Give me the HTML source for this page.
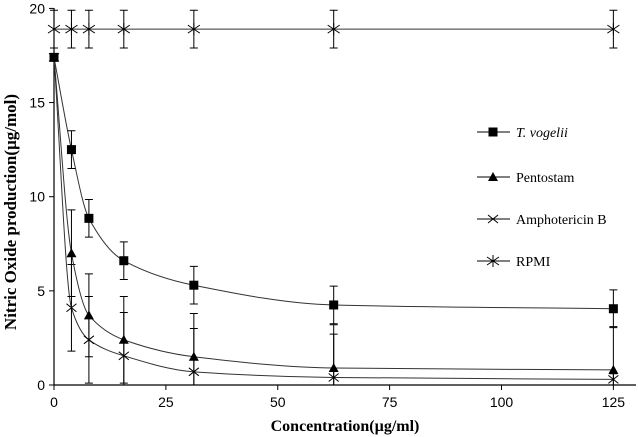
<!DOCTYPE html>
<html><head><meta charset="utf-8"><style>
body{margin:0;background:#fff;}
svg{display:block;font-family:"Liberation Serif",serif;}
</style></head><body>
<svg id="c" width="638" height="437"></svg>
<script>
const xs=[0,3.9,7.8,15.6,31.25,62.5,125];
const tvog=[17.4,12.5,8.85,6.6,5.3,4.25,4.05];
const tvogErr=[0,1,1,1,1,1,1];
const pento=[17.4,7.0,3.7,2.4,1.5,0.9,0.8];
const pentoErr=[0,2.3,2.2,2.3,2.3,2.3,2.3];
const ampho=[17.4,4.1,2.4,1.55,0.7,0.4,0.3];
const amphoErr=[0,2.3,2.3,2.3,2.3,2.3,0.3];
const rpmi=[18.9,18.9,18.9,18.9,18.9,18.9,18.9];
const rpmiErr=[1,1,1,1,1,1,1];
const xTicks=[0,25,50,75,100,125];
const yTicks=[0,5,10,15,20];
const NS="http://www.w3.org/2000/svg";
const svg=document.getElementById('c');
const X=v=>54+v*4.475, Y=v=>385-v*18.83;
function el(t,a,p){const e=document.createElementNS(NS,t);for(const k in a)e.setAttribute(k,a[k]);(p||svg).appendChild(e);return e;}
let ax=el('line',{x1:54,y1:385,x2:636,y2:385,stroke:'#000','stroke-width':1.2});

let ay=el('line',{x1:54,y1:8,x2:54,y2:385,stroke:'#000','stroke-width':1.2});

xTicks.forEach(t=>{el('line',{x1:X(t),y1:385,x2:X(t),y2:390,stroke:'#000'});
 const tx=el('text',{x:X(t),y:407,'text-anchor':'middle','font-size':14,'font-family':'Liberation Sans, sans-serif'});tx.textContent=t;
 });
yTicks.forEach(t=>{el('line',{x1:49,y1:Y(t),x2:54,y2:Y(t),stroke:'#000'});
 const tx=el('text',{x:45,y:Y(t)+5,'text-anchor':'end','font-size':14,'font-family':'Liberation Sans, sans-serif'});tx.textContent=t;
 });
let xt=el('text',{x:345,y:431,'text-anchor':'middle','font-size':16,'font-weight':'bold'});xt.textContent='Concentration(µg/ml)';

let yt=el('text',{x:0,y:0,'text-anchor':'middle','font-size':17,'font-weight':'bold',transform:'translate(16,212) rotate(-90)'});yt.textContent='Nitric Oxide production(µg/mol)';

function curve(vals){const p=xs.map((x,i)=>[X(x),Y(vals[i])]);const n=p.length;
 const d=[],m=[];for(let i=0;i<n-1;i++)d.push((p[i+1][1]-p[i][1])/(p[i+1][0]-p[i][0]));
 m[0]=d[0];m[n-1]=d[n-2];for(let i=1;i<n-1;i++)m[i]=d[i-1]*d[i]<=0?0:2/(1/d[i-1]+1/d[i]);
 let s='M'+p[0][0]+','+p[0][1];for(let i=0;i<n-1;i++){const h=(p[i+1][0]-p[i][0])/3;
 s+=`C${p[i][0]+h},${p[i][1]+m[i]*h} ${p[i+1][0]-h},${p[i+1][1]-m[i+1]*h} ${p[i+1][0]},${p[i+1][1]}`;}return s;}
function marker(type,x,y,g){
 if(type==='sq')el('rect',{x:x-4.5,y:y-4.5,width:9,height:9,fill:'#000'},g);
 else if(type==='tri')el('path',{d:`M${x},${y-5}L${x+5},${y+4}L${x-5},${y+4}Z`,fill:'#000'},g);
 else if(type==='x')el('path',{d:`M${x-5},${y-4}L${x+5},${y+4}M${x-5},${y+4}L${x+5},${y-4}`,stroke:'#000',fill:'none'},g);
 else el('path',{d:`M${x-6},${y-4}L${x+6},${y+4}M${x-6},${y+4}L${x+6},${y-4}M${x},${y-6}L${x},${y+6}`,stroke:'#000',fill:'none'},g);}
function series(name,vals,err,type){const g=el('g',{});
 
 el('path',{d:curve(vals),fill:'none',stroke:'#333','stroke-width':1},g);
 xs.forEach((x,i)=>{if(err[i]>0){const cx=X(x),a=Y(vals[i]+err[i]),b=Y(Math.max(0,vals[i]-err[i]));
  el('path',{d:`M${cx},${a}L${cx},${b}M${cx-4},${a}L${cx+4},${a}M${cx-4},${b}L${cx+4},${b}`,stroke:'#000','stroke-width':1},g);}
  marker(type,X(x),Y(vals[i]),g);});}
series('series-rpmi',rpmi,rpmiErr,'star');
series('series-amphotericin-b',ampho,amphoErr,'x');
series('series-pentostam',pento,pentoErr,'tri');
series('series-t-vogelii',tvog,tvogErr,'sq');
const leg=[['T. vogelii','sq',132,true],['Pentostam','tri',177,false],['Amphotericin B','x',219,false],['RPMI','star',261,false]];
leg.forEach(([t,ty,y,it])=>{const g=el('g',{});
 el('line',{x1:477,y1:y,x2:510,y2:y,stroke:'#000'},g);marker(ty,493,y,g);
 const tx=el('text',{x:516,y:y+5,'font-size':14,'font-style':it?'italic':'normal'},g);tx.textContent=t;});
</script>
</body></html>
